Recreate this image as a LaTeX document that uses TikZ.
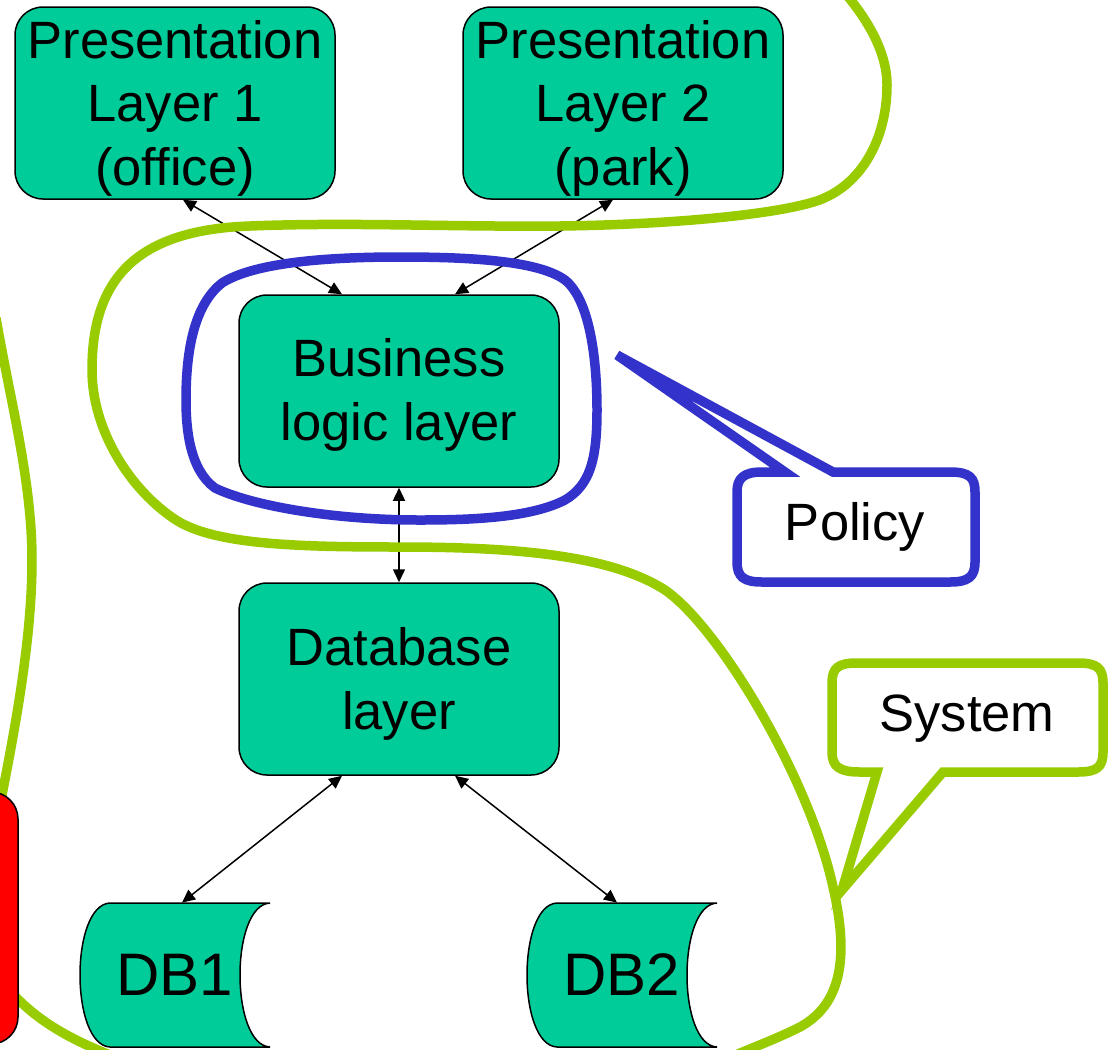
\documentclass[tikz,border=0pt]{standalone}
\usepackage{fontspec}
\setmainfont{Liberation Sans}
\usetikzlibrary{arrows.meta}
\definecolor{layerfill}{HTML}{00CC99}
\definecolor{policyblue}{HTML}{3333CC}
\definecolor{systemgreen}{HTML}{99CC00}

\tikzset{
  layerbox/.style={draw=black, line width=0.75pt, fill=layerfill, rounded corners=14pt,
    minimum width=160pt, minimum height=96pt, inner sep=0pt},
  layertext/.style={font=\fontsize{26.25pt}{31.75pt}\selectfont, align=center, inner sep=0pt},
  dbtext/.style={font=\fontsize{30pt}{36pt}\selectfont, inner sep=0pt,
    minimum width=95pt, minimum height=72pt},
  dbfill/.style={draw=black, line width=0.75pt, fill=layerfill},
  link/.style={line width=0.75pt, {Triangle[length=6.5pt,width=6pt]}-{Triangle[length=6.5pt,width=6pt]}},
  scopeline/.style={line width=4.75pt, line join=round},
  calloutline/.style={line width=4.75pt, fill=white},
  callouttext/.style={font=\fontsize{26.25pt}{31.75pt}\selectfont, inner sep=0pt},
  dbdrum/.pic={
    \path[dbfill] (-65,-72) -- (95,-72) .. controls (55,-70) and (55,70) .. (95,72)
      -- (-65,72) .. controls (-105,70) and (-105,-70) .. (-65,-72) -- cycle;
  }
}

\begin{document}
\begin{tikzpicture}[x=0.5pt, y=-0.5pt]
  \useasboundingbox (0,0) rectangle (1112,1049);
  \clip (0,0) rectangle (1112,1049);
  \fill[white] (0,0) rectangle (1112,1049);

  % layer boxes
  \node[layerbox] (p1) at (175,103) {};
  \node[layertext] (p1t) at (175,108) {Presentation\\Layer 1\\(office)};
  \node[layerbox] (p2) at (623,103) {};
  \node[layertext] (p2t) at (623,108) {Presentation\\Layer 2\\(park)};
  \node[layerbox] (bl) at (399,391) {};
  \node[layertext] (blt) at (399,395) {Business\\logic layer};
  \node[layerbox] (dbl) at (399,679) {};
  \node[layertext] (dblt) at (399,684) {Database\\layer};

  % data stores
  \pic at (175,975) {dbdrum};
  \node[dbtext] (db1) at (175,975) {DB1};
  \pic at (622,975) {dbdrum};
  \node[dbtext] (db2) at (622,975) {DB2};

  % connectors
  \draw[link] ([xshift=4pt]p1.south) -- ([xshift=-28.5pt]bl.north);
  \draw[link] ([xshift=-5pt]p2.south) -- ([xshift=28pt]bl.north);
  \draw[link] (bl.south) -- (dbl.north);
  \draw[link] ([xshift=-28.5pt]dbl.south) -- ([xshift=3.5pt]db1.north);
  \draw[link] ([xshift=28pt]dbl.south) -- ([xshift=-2.5pt]db2.north);

  % policy scope
  \draw[scopeline, policyblue]
    (400,257) .. controls (480,257) and (540,262) .. (565,280)
    .. controls (590,300) and (597,360) .. (597,410)
    .. controls (597,460) and (590,485) .. (565,500)
    .. controls (530,518) and (470,520) .. (420,520)
    .. controls (330,520) and (250,505) .. (215,488)
    .. controls (190,470) and (186,430) .. (186,400)
    .. controls (186,340) and (198,302) .. (222,283)
    .. controls (255,262) and (330,257) .. (400,257) -- cycle;

  % system scope
  \draw[scopeline, systemgreen]
    (838,-15) .. controls (865,15) and (887,50) .. (887,85)
    .. controls (887,140) and (860,190) .. (810,203)
    .. controls (760,217) and (650,225) .. (560,226)
    .. controls (450,227) and (350,222) .. (250,226)
    .. controls (135,230) and (92,280) .. (92,370)
    .. controls (92,430) and (130,490) .. (176,520)
    .. controls (215,545) and (300,547) .. (400,547)
    .. controls (520,547) and (612,556) .. (665,590)
    .. controls (720,628) and (810,780) .. (833,887)
    .. controls (850,960) and (840,1005) .. (800,1027)
    .. controls (770,1042) and (745,1050) .. (725,1060);
  \draw[scopeline, systemgreen]
    (-4,318) .. controls (10,400) and (32,480) .. (32,560)
    .. controls (32,640) and (15,730) .. (-3,820);
  \draw[scopeline, systemgreen]
    (5,985) .. controls (30,1015) and (60,1035) .. (110,1055);

  % red element at the left edge
  \draw[fill=red, line width=0.75pt, rounded corners=13.5pt] (-60,792) rectangle (18,1044);

  % callouts
  \draw[calloutline, draw=policyblue]
    (785,472) -- (617,355) -- (833,472) -- (950,472)
    .. controls (970,472) and (975,478) .. (975,492) -- (975,562)
    .. controls (975,577) and (968,582) .. (950,582) -- (762,582)
    .. controls (744,582) and (737,577) .. (737,562) -- (737,492)
    .. controls (737,478) and (744,472) .. (762,472) -- cycle;
  \node[callouttext] (policy) at (855,527) {Policy};

  \draw[calloutline, draw=systemgreen]
    (877,772) -- (842,890) -- (943,772) -- (1078,772)
    .. controls (1097,772) and (1103,767) .. (1103,752) -- (1103,683)
    .. controls (1103,668) and (1097,663) .. (1078,663) -- (857,663)
    .. controls (838,663) and (832,668) .. (832,683) -- (832,752)
    .. controls (832,767) and (840,772) .. (860,772) -- cycle;
  \node[callouttext] (system) at (967,719) {System};
\end{tikzpicture}
\end{document}
